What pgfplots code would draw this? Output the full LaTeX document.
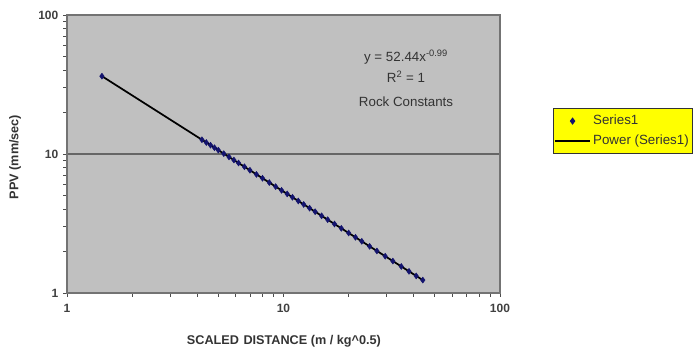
\documentclass[border=0pt]{standalone}
\usepackage{pgfplots}
\pgfplotsset{compat=1.18}
\usepackage{fontspec}
\setmainfont{Liberation Sans}
\definecolor{plotgray}{RGB}{192,192,192}
\definecolor{ptnavy}{RGB}{20,20,110}
\definecolor{legyellow}{RGB}{255,255,0}
\pgfplotsset{
  markleg/.style={legend image code/.code={\draw[##1] plot coordinates {(0.45cm,0cm)};}},
  lineleg/.style={legend image code/.code={\draw[##1] (0cm,0cm) -- (0.9cm,0cm);}},
}
\begin{document}
\begin{tikzpicture}
\useasboundingbox (0pt,0pt) rectangle (525pt,263.25pt);
\begin{axis}[
  at={(50.25pt,43.5pt)}, anchor=south west,
  scale only axis, width=324.75pt, height=208.5pt,
  xmode=log, ymode=log,
  xmin=1, xmax=100, ymin=1, ymax=100,
  xtick={1,10,100}, xticklabels={1,10,100},
  ytick={1,10,100}, yticklabels={1,10,100},
  minor xtick={}, minor ytick={},
  tick align=outside, tick pos=left,
  major tick length=3pt,
  axis background/.style={fill=plotgray},
  axis line style={draw=black!55, line width=0.8pt},
  ymajorgrids,
  grid style={draw=black!60, line width=1pt},
  tick style={black!70, line width=0.6pt},
  ticklabel style={font=\fontsize{9}{10}\selectfont\bfseries, text=black!75},
  xticklabel style={yshift=-2pt},
  xlabel={SCALED\hspace{0.35em}DISTANCE (m / kg\textasciicircum 0.5)},
  ylabel={PPV (mm/sec)},
  label style={font=\fontsize{9.5}{11}\selectfont\bfseries, text=black!80},
  xlabel style={at={(axis description cs:0.501,-0.173)}, anchor=center},
  ylabel style={at={(axis description cs:-0.12,0.489)}, anchor=center},
  legend style={at={(rel axis cs:1.122,0.665)}, anchor=north west,
    fill=legyellow, draw=black!80, line width=0.7pt,
    font=\fontsize{10}{11}\selectfont, text=black!80,
    inner xsep=1pt, inner ysep=3pt, row sep=2pt},
  legend cell align=left,
  clip=false,
]
\addplot[only marks, mark=diamond*, mark size=2.2pt, mark options={fill=ptnavy, draw=ptnavy}, markleg]
coordinates {
(1.45,36.30) (4.2,12.666) (4.4,12.096) (4.6,11.575) (4.8,11.098) (5.0,10.658)
(5.3,10.061) (5.6,9.527) (5.9,9.047) (6.2,8.614) (6.6,8.097) (7.0,7.639)
(7.5,7.134) (8.0,6.693) (8.6,6.230) (9.2,5.828) (9.8,5.475) (10.4,5.162)
(11.0,4.883) (11.7,4.594) (12.4,4.337) (13.2,4.077) (14.0,3.846) (15.0,3.592)
(16.0,3.370) (17.2,3.137) (18.5,2.919) (20.0,2.702) (21.5,2.515) (23.0,2.353)
(25.0,2.166) (27.0,2.007) (29.5,1.839) (32.0,1.697) (35.0,1.553) (38.0,1.431)
(41.0,1.327) (44.0,1.238)
};
\addlegendentry{Series1}
\addplot[black, line width=1.3pt, lineleg]
  coordinates {(1.45,36.30) (44.0,1.238)};
\addlegendentry{Power (Series1)}
\node[font=\fontsize{10}{11}\selectfont, text=black!80] at (rel axis cs:0.783,0.849) {y = 52.44x\textsuperscript{-0.99}};
\node[font=\fontsize{10}{11}\selectfont, text=black!80] at (rel axis cs:0.783,0.777) {R\textsuperscript{2} = 1};
\node[font=\fontsize{10}{11}\selectfont, text=black!80] at (rel axis cs:0.783,0.687) {Rock Constants};
\end{axis}
\end{tikzpicture}
\end{document}
